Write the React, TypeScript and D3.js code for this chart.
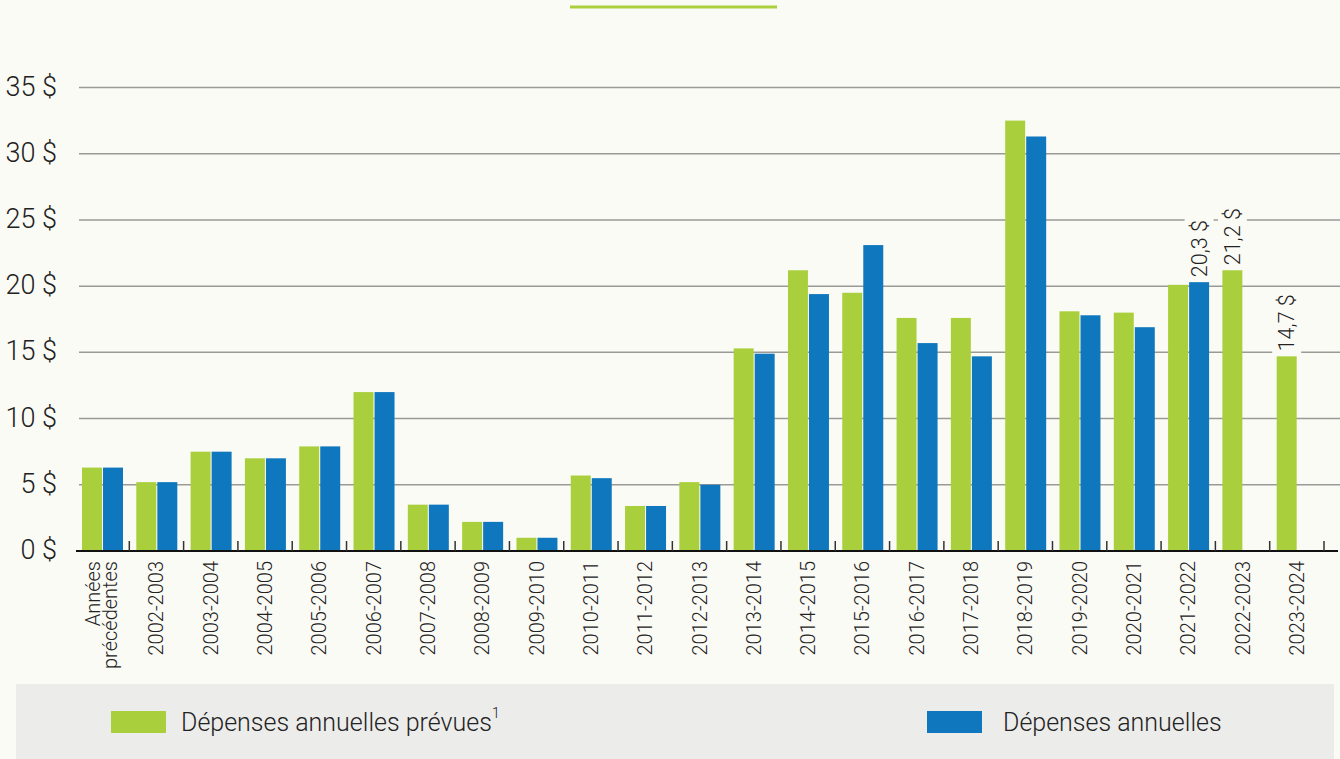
import React, { useEffect, useRef } from 'react';
import * as d3 from 'd3';

const categories = [
    'Années précédentes', '2002-2003', '2003-2004', '2004-2005', '2005-2006', '2006-2007',
    '2007-2008', '2008-2009', '2009-2010', '2010-2011', '2011-2012', '2012-2013',
    '2013-2014', '2014-2015', '2015-2016', '2016-2017', '2017-2018', '2018-2019',
    '2019-2020', '2020-2021', '2021-2022', '2022-2023', '2023-2024',
];
// Dépenses annuelles prévues (milliards $)
const prevues = [6.3, 5.2, 7.5, 7.0, 7.9, 12.0, 3.5, 2.2, 1.0, 5.7, 3.4, 5.2,
    15.3, 21.2, 19.5, 17.6, 17.6, 32.5, 18.1, 18.0, 20.1, 21.2, 14.7];
// Dépenses annuelles réelles
const annuelles: (number | null)[] = [6.3, 5.2, 7.5, 7.0, 7.9, 12.0, 3.5, 2.2, 1.0, 5.5, 3.4, 5.0,
    14.9, 19.4, 23.1, 15.7, 14.7, 31.3, 17.8, 16.9, 20.3, null, null];
const yTicks = [0, 5, 10, 15, 20, 25, 30, 35];
const valueLabels: [string, string, string][] = [
    ['2021-2022', 'annuelles', '20,3 $'],
    ['2022-2023', 'prevues', '21,2 $'],
    ['2023-2024', 'prevues', '14,7 $'],
];
const seriesKeys = ['prevues', 'annuelles'];
const legendLabels = ['Dépenses annuelles prévues', 'Dépenses annuelles'];

const W = 1340;
const H = 759;
const BG = '#fbfbf6';
const GREEN = '#aacf3d';
const BLUE = '#0f77bd';
const FONT = 'Roboto, "Liberation Sans", Arial, sans-serif';

export default function App() {
    const ref = useRef<SVGSVGElement>(null);

    useEffect(() => {
        if (!ref.current) return;
        const svg = d3.select(ref.current);
        svg.selectAll('*').remove();

        const x = d3.scaleBand<string>().domain(categories).range([75, 1324]).padding(0);
        const xs = d3.scaleBand<string>().domain(seriesKeys).range([7, 48]).paddingInner(0.05);
        const y = d3.scaleLinear().domain([0, 35]).range([551, 87.5]);
        const color = d3.scaleOrdinal<string, string>().domain(seriesKeys).range([GREEN, BLUE]);

        svg.append('rect').attr('width', W).attr('height', H).attr('fill', BG);

        // decorative top rule
        svg.append('line')
            .attr('x1', 570).attr('x2', 777).attr('y1', 7).attr('y2', 7)
            .attr('stroke', GREEN).attr('stroke-width', 3);

        // grid + y labels
        const grid = svg.append('g');
        grid.selectAll('line')
            .data(yTicks.filter(d => d > 0))
            .enter().append('line')
            .attr('x1', 79).attr('x2', W)
            .attr('y1', d => y(d)).attr('y2', d => y(d))
            .attr('stroke', '#9a9a96').attr('stroke-width', 1.5);
        grid.selectAll('text')
            .data(yTicks)
            .enter().append('text')
            .attr('x', 57).attr('y', d => y(d)).attr('dy', '0.3em')
            .attr('text-anchor', 'end')
            .attr('font-family', FONT).attr('font-weight', 300)
            .attr('font-size', 27).attr('fill', '#222')
            .text(d => `${d} $`);

        // bars
        const rows = categories.map((c, i) => ({ cat: c, prevues: prevues[i], annuelles: annuelles[i] }));
        const groups = svg.append('g').selectAll('g')
            .data(rows).enter().append('g')
            .attr('transform', d => `translate(${x(d.cat)},0)`);
        groups.selectAll('rect')
            .data(d => seriesKeys
                .map(k => ({ key: k, value: (d as any)[k] as number | null }))
                .filter(v => v.value != null))
            .enter().append('rect')
            .attr('x', d => xs(d.key)!)
            .attr('width', xs.bandwidth())
            .attr('y', d => y(d.value!))
            .attr('height', d => y(0) - y(d.value!))
            .attr('fill', d => color(d.key));

        // axis line + ticks
        svg.append('line')
            .attr('x1', 76).attr('x2', 1338).attr('y1', 551).attr('y2', 551)
            .attr('stroke', '#111').attr('stroke-width', 2);
        svg.append('g').selectAll('line')
            .data(categories)
            .enter().append('line')
            .attr('x1', d => x(d)! + x.bandwidth())
            .attr('x2', d => x(d)! + x.bandwidth())
            .attr('y1', 541).attr('y2', 551)
            .attr('stroke', '#333').attr('stroke-width', 1.5);

        // x labels
        const xl = svg.append('g').selectAll('text')
            .data(categories).enter().append('text')
            .attr('transform', d => `translate(${x(d)! + x.bandwidth() / 2},561) rotate(-90)`)
            .attr('text-anchor', 'end')
            .attr('font-family', FONT).attr('font-weight', 300)
            .attr('font-size', 20).attr('fill', '#222');
        xl.each(function (d) {
            const t = d3.select(this);
            if (d === 'Années précédentes') {
                t.append('tspan').attr('x', 0).attr('dy', '-0.1em').text('Années');
                t.append('tspan').attr('x', 0).attr('dy', '0.85em').text('précédentes');
            } else {
                t.attr('dy', '0.35em').text(d);
            }
        });

        // value labels with background
        valueLabels.forEach(([cat, key, txt]) => {
            const idx = categories.indexOf(cat);
            const v = (key === 'prevues' ? prevues[idx] : annuelles[idx]) as number;
            const cx = x(cat)! + xs(key)! + xs.bandwidth() / 2;
            const g = svg.append('g').attr('transform', `translate(${cx},${y(v) - 5}) rotate(-90)`);
            const bg = g.append('rect').attr('fill', BG);
            const t = g.append('text')
                .attr('dy', '0.35em')
                .attr('font-family', FONT).attr('font-weight', 300)
                .attr('font-size', 21.5).attr('fill', '#222')
                .text(txt);
            const bb = (t.node() as SVGTextElement).getBBox();
            bg.attr('x', bb.x - 2).attr('y', bb.y - 2).attr('width', bb.width + 4).attr('height', bb.height + 4);
        });

        // legend
        svg.append('rect').attr('x', 16).attr('y', 684).attr('width', 1318).attr('height', 75).attr('fill', '#ececea');
        const legendX = [111, 927];
        const legendTextX = [181, 1003];
        seriesKeys.forEach((k, i) => {
            svg.append('rect')
                .attr('x', legendX[i]).attr('y', 711).attr('width', 55).attr('height', 22)
                .attr('fill', color(k));
            const t = svg.append('text')
                .attr('x', legendTextX[i]).attr('y', 731)
                .attr('font-family', FONT).attr('font-weight', 300)
                .attr('font-size', 25).attr('fill', '#222')
                .text(legendLabels[i]);
            if (i === 0) {
                t.append('tspan').attr('font-size', 14).attr('dy', '-0.95em').text('1');
            }
        });
    }, []);

    return (
        <div style={{ position: 'fixed', left: 0, top: 0 }}>
            <svg ref={ref} width={W} height={H} />
        </div>
    );
}
